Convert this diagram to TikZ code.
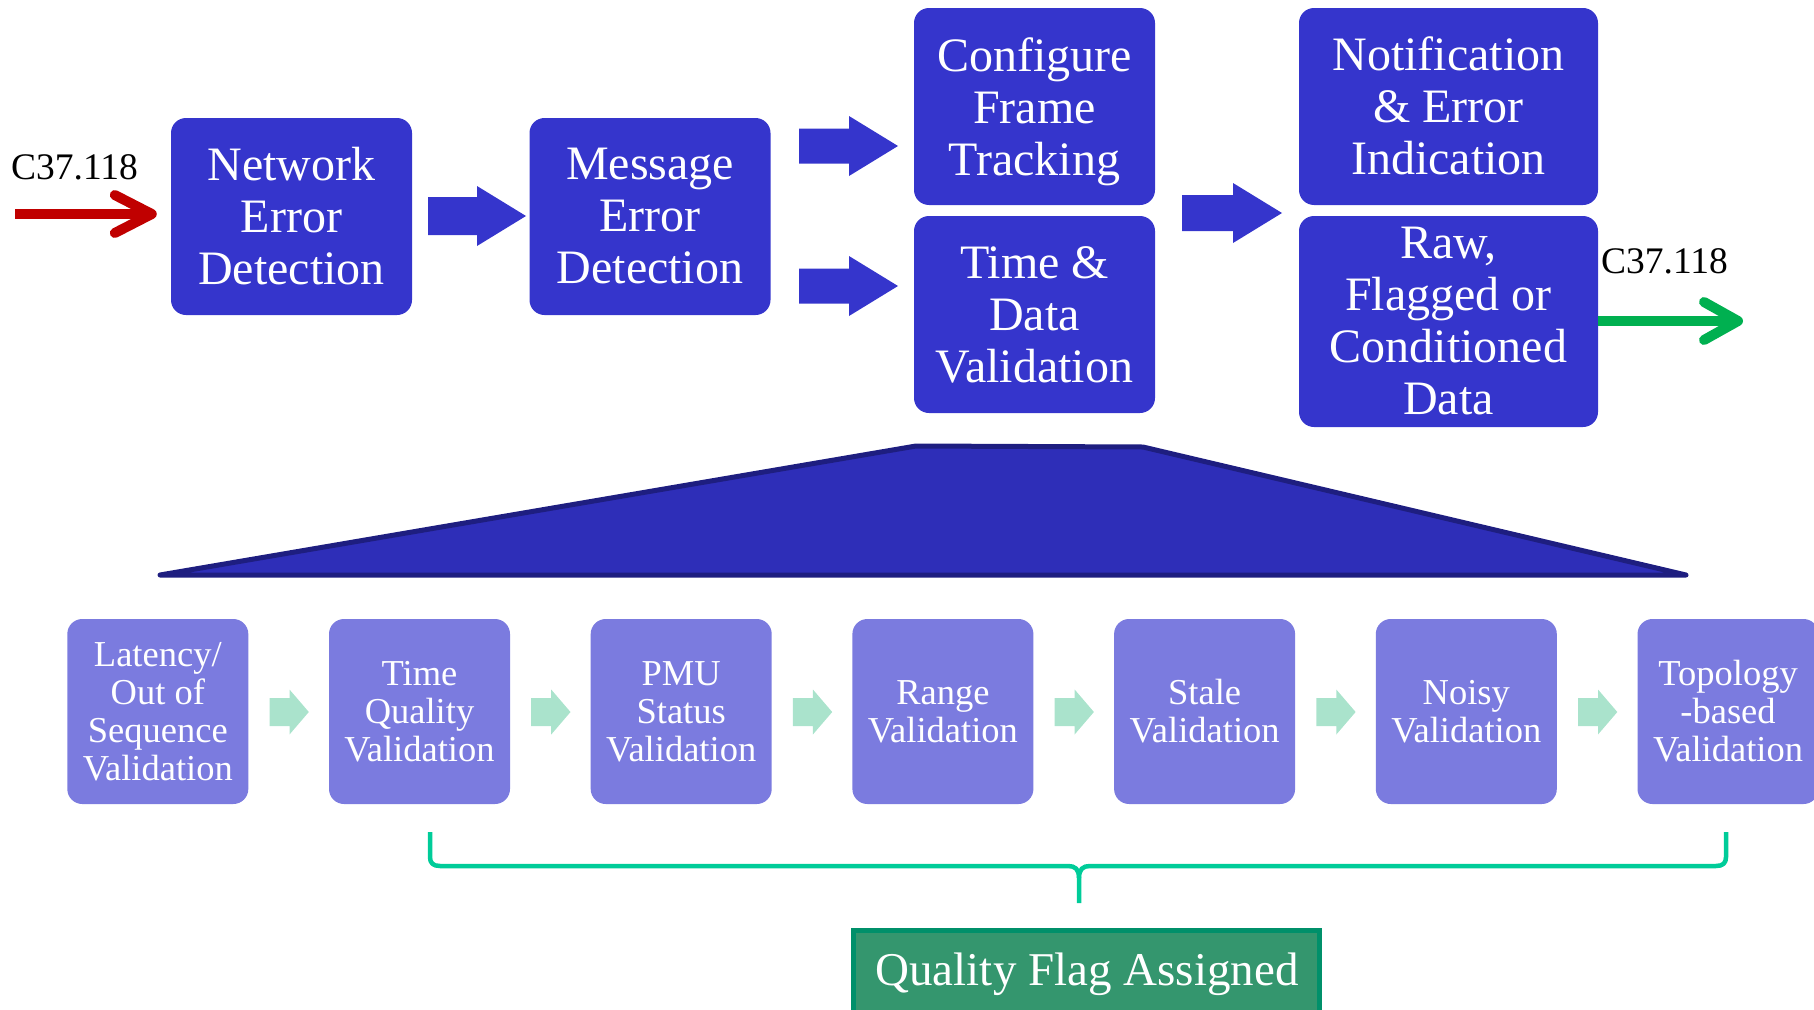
\documentclass[tikz,border=0pt]{standalone}
\usepackage{fontspec}
\setmainfont{Liberation Serif}
\usetikzlibrary{calc}
\definecolor{topblue}{RGB}{53,53,204}
\definecolor{lowblue}{RGB}{123,123,223}
\definecolor{lightarr}{RGB}{170,227,204}
\definecolor{trapfill}{RGB}{46,46,184}
\definecolor{trapedge}{RGB}{30,30,128}
\definecolor{inred}{RGB}{192,0,0}
\definecolor{outgreen}{RGB}{0,176,80}
\definecolor{bracec}{RGB}{0,204,153}
\definecolor{qfill}{RGB}{52,150,110}
\definecolor{qedge}{RGB}{0,144,106}
\newcommand\blockarr[7]{% color, x0, xh, x1, yc, shaft half, head half
  \fill[#1] (#2,#5-#6) -- (#3,#5-#6) -- (#3,#5-#7) -- (#4,#5) -- (#3,#5+#7) -- (#3,#5+#6) -- (#2,#5+#6) -- cycle;}
\begin{document}
\begin{tikzpicture}[x=1pt,y=-1pt,
  topbox/.style={fill=topblue, rounded corners=15pt, text=white, align=center, inner sep=0pt,
    font=\fontsize{48}{52}\selectfont},
  lowbox/.style={fill=lowblue, rounded corners=15pt, text=white, align=center, inner sep=0pt,
    minimum width=181pt, minimum height=185pt, font=\fontsize{36.5}{38}\selectfont},
  lbl/.style={font=\fontsize{37.5}{40}\selectfont, anchor=base west, inner sep=0pt},
  arrline/.style={line width=10pt, line cap=butt},
  arrhead/.style={line width=10pt, line cap=round, line join=round},
]
\useasboundingbox (0,0) rectangle (1814,1009);

% top row
\node[topbox, minimum width=241pt, minimum height=197pt] (ned) at (291.5,216.5) {Network\\Error\\Detection};
\node[topbox, minimum width=241pt, minimum height=197pt] (med) at (650,216.5) {Message\\Error\\Detection};
\node[topbox, minimum width=241pt, minimum height=197pt, text depth=0pt] (cft) at (1034.5,106.5) {Configure\\Frame\\Tracking};
\node[topbox, minimum width=241pt, minimum height=197pt] (tdv) at (1034.5,314.5) {Time \&\\Data\\Validation};
\node[topbox, minimum width=299pt, minimum height=197pt] (nei) at (1448.5,106.5) {\raisebox{2pt}{Notification}\\\raisebox{2pt}{\& Error}\\\raisebox{2pt}{Indication}};
\node[topbox, minimum width=299pt, minimum height=211pt] (rfc) at (1448.5,321.5) {Raw,\\Flagged or\\Conditioned\\Data};

% block arrows (top)
\blockarr{topblue}{428}{477}{526}{216}{19}{30}
\blockarr{topblue}{799}{849}{898}{146}{17.5}{30}
\blockarr{topblue}{799}{849}{898}{286}{17.5}{30}
\blockarr{topblue}{1182}{1233}{1282}{213}{18}{30}

% input / output
\node[lbl] (lin) at (11,179) {C37.118};
\node[lbl] (lout) at (1601,273) {C37.118};
\coordinate (cin) at (15,214);
\draw[inred, arrline] (cin) -- ($(ned.west|-cin)+(-21,0)$);
\draw[inred, arrhead] ($(ned.west|-cin)+(-56,-19)$) -- ($(ned.west|-cin)+(-19,0)$) -- ($(ned.west|-cin)+(-56,19)$);
\coordinate (cout) at (1738,321);
\draw[outgreen, arrline] (rfc.east|-cout) -- ($(cout)+(-2,0)$);
\draw[outgreen, arrhead] ($(cout)+(-34,-19)$) -- (cout) -- ($(cout)+(-34,19)$);

% trapezoid
\filldraw[fill=trapfill, draw=trapedge, line width=5pt, line join=round]
  (160,575) -- (916,446) -- (1143,447) -- (1686,575) -- cycle;

% bottom row
\node[lowbox] (b1) at (157.8,711.5) {Latency/\\Out of\\Sequence\\Validation};
\node[lowbox] (b2) at (419.5,711.5) {Time\\Quality\\Validation};
\node[lowbox] (b3) at (681.2,711.5) {PMU\\Status\\Validation};
\node[lowbox] (b4) at (942.9,711.5) {Range\\Validation};
\node[lowbox] (b5) at (1204.6,711.5) {Stale\\Validation};
\node[lowbox] (b6) at (1466.3,711.5) {Noisy\\Validation};
\node[lowbox] (b7) at (1728.0,711.5) {Topology\\-based\\Validation};

\foreach \a/\b in {b1/b2,b2/b3,b3/b4,b4/b5,b5/b6,b6/b7}
  \fill[lightarr] let \p1=(\a.east), \p2=(\b.west) in
    (\x1+21pt,\y1-0.5pt+14pt) -- (\x1+41pt,\y1-0.5pt+14pt) -- (\x1+41pt,\y1-0.5pt+22.5pt) -- (\x2-20pt,\y1-0.5pt)
    -- (\x1+41pt,\y1-0.5pt-22.5pt) -- (\x1+41pt,\y1-0.5pt-14pt) -- (\x1+21pt,\y1-0.5pt-14pt) -- cycle;

% brace
\draw[bracec, line width=4.5pt, line join=round]
  (430,832) -- (430,857) .. controls (430,863) and (433,866) .. (440,866) -- (1068,866)
  .. controls (1075,866) and (1079,869) .. (1079,878) -- (1079,903);
\draw[bracec, line width=4.5pt, line join=round]
  (1726,832) -- (1726,857) .. controls (1726,863) and (1723,866) .. (1716,866) -- (1090,866)
  .. controls (1083,866) and (1079,869) .. (1079,878);

% quality flag
\filldraw[fill=qfill, draw=qedge, line width=5pt] (853.5,930.5) rectangle (1319.5,1040);
\node[text=white, font=\fontsize{47}{52}\selectfont, anchor=base, inner sep=0pt] (qf) at (1087,985) {Quality Flag Assigned};
\end{tikzpicture}
\end{document}
